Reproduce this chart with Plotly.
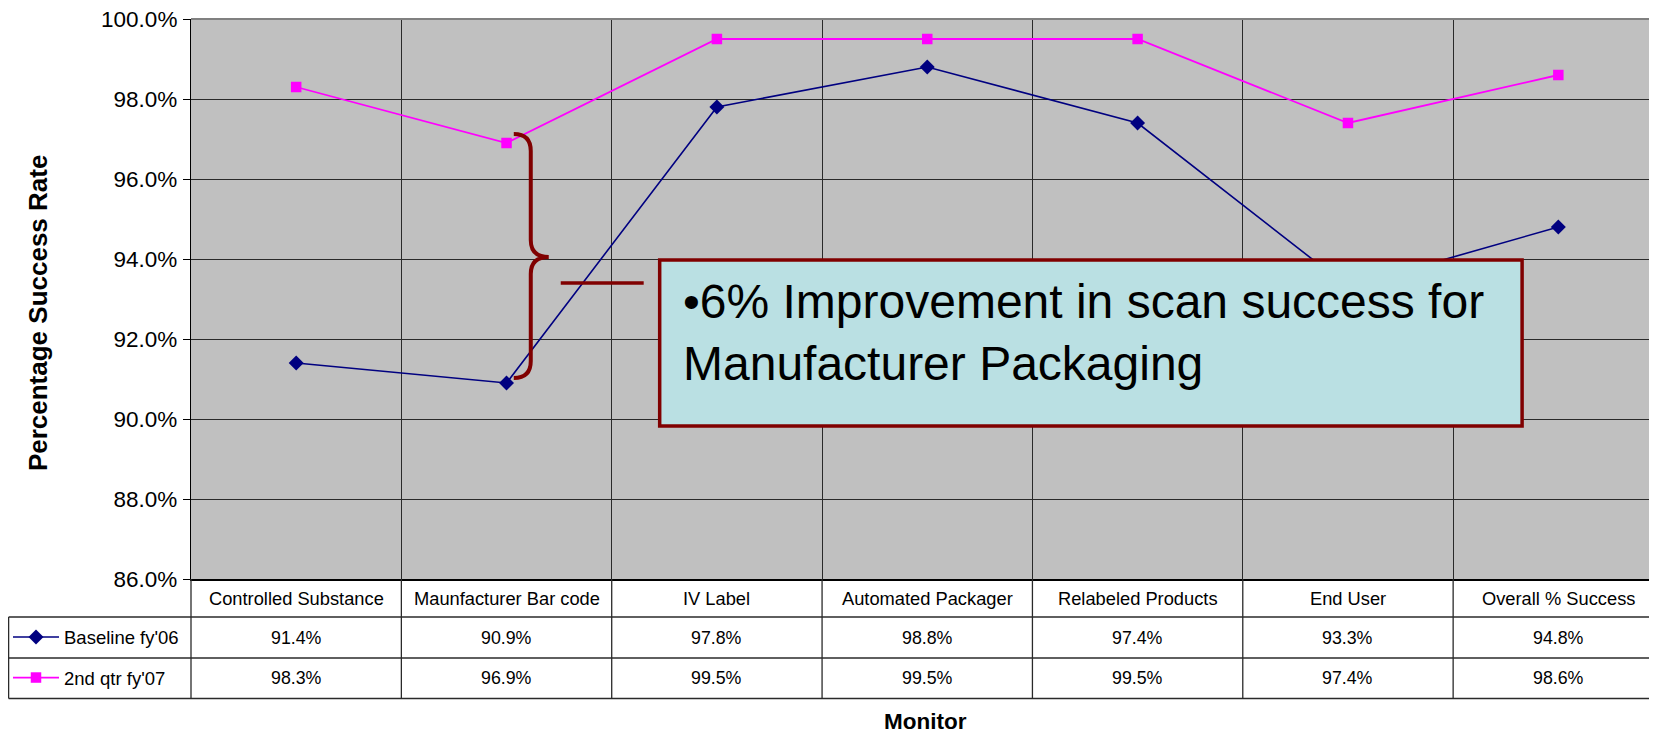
import plotly.graph_objects as go

categories = ["Controlled Substance", "Maunfacturer Bar code", "IV Label",
              "Automated Packager", "Relabeled Products", "End User", "Overall % Success"]
baseline_fy06 = [91.4, 90.9, 97.8, 98.8, 97.4, 93.3, 94.8]
qtr2_fy07 = [98.3, 96.9, 99.5, 99.5, 99.5, 97.4, 98.6]
series_names = ["Baseline fy'06", "2nd qtr fy'07"]
callout_text = "\u20226% Improvement in scan success for<br>Manufacturer Packaging"

FONT = "Liberation Sans, Arial, Helvetica, sans-serif"
OFF = 8  # default page body margin
W_PAGE, H_PAGE = 1657, 735
W_FIG, H_FIG = W_PAGE - OFF, H_PAGE - OFF
L, R, T, B = 190, 1657, 19, 579   # plot area in page pixels
PW, PH = R - L, B - T
COLW = 210.5
GRID = "#2a2a2a"


def px(x):
    return (x - L) / PW


def py(y):
    return (B - y) / PH


fig = go.Figure()
fig.add_trace(go.Scatter(
    x=categories, y=baseline_fy06, name=series_names[0], mode="lines+markers",
    line=dict(color="#000080", width=1.6),
    marker=dict(symbol="diamond", size=11.5, color="#000080"),
    legend="legend"))
fig.add_trace(go.Scatter(
    x=categories, y=qtr2_fy07, name=series_names[1], mode="lines+markers",
    line=dict(color="#FF00FF", width=1.8),
    marker=dict(symbol="square", size=10.5, color="#FF00FF"),
    legend="legend2"))

shapes = []
annotations = []

# Data table
row_y = [B, 617, 658, 698.5]
leg_left = 7.5
for yy in row_y[1:]:
    shapes.append(dict(type="line", xref="paper", yref="paper",
                       x0=px(leg_left), x1=1, y0=py(yy), y1=py(yy),
                       line=dict(color=GRID, width=1.3)))
shapes.append(dict(type="line", xref="paper", yref="paper", x0=0, x1=0,
                   y0=py(B), y1=py(row_y[3]), line=dict(color=GRID, width=1.3)))
shapes.append(dict(type="line", xref="paper", yref="paper", x0=px(leg_left), x1=px(leg_left),
                   y0=py(row_y[1]), y1=py(row_y[3]), line=dict(color=GRID, width=1.3)))
for i in range(len(categories) - 1):
    shapes.append(dict(type="line", xref="x", yref="paper", x0=i + 0.5, x1=i + 0.5,
                       y0=py(B), y1=py(row_y[3]), line=dict(color=GRID, width=1.3)))

for i, c in enumerate(categories):
    annotations.append(dict(x=i, xref="x", y=py((row_y[0] + row_y[1]) / 2), yref="paper",
                            xanchor="center", yanchor="middle",
                            text=c, showarrow=False, font=dict(size=18.3, color="black")))
    annotations.append(dict(x=i, xref="x", y=py((row_y[1] + row_y[2]) / 2), yref="paper",
                            xanchor="center", yanchor="middle",
                            text=f"{baseline_fy06[i]:.1f}%", showarrow=False,
                            font=dict(size=17.8, color="black")))
    annotations.append(dict(x=i, xref="x", y=py((row_y[2] + row_y[3]) / 2), yref="paper",
                            xanchor="center", yanchor="middle",
                            text=f"{qtr2_fy07[i]:.1f}%", showarrow=False,
                            font=dict(size=17.8, color="black")))

# Axis titles
annotations.append(dict(x=px(925), y=py(721), xref="paper", yref="paper", text="<b>Monitor</b>",
                        xanchor="center", yanchor="middle",
                        showarrow=False, font=dict(size=22.5, color="black")))
annotations.append(dict(x=px(37), y=py(313), xref="paper", yref="paper",
                        text="<b>Percentage Success Rate</b>", textangle=-90,
                        xanchor="center", yanchor="middle",
                        showarrow=False, font=dict(size=26, color="black")))

# top border of plot area
shapes.append(dict(type="line", xref="paper", yref="paper", x0=0, x1=1, y0=1, y1=1,
                   line=dict(color="#808080", width=2)))

# brace
bx, bv, btip = 513, 530, 548
btop, bmid, bbot = 134, 257, 378
brace = (f"M{px(bx)},{py(btop)} Q{px(bv)},{py(btop)} {px(bv)},{py(btop + 17)} "
         f"L{px(bv)},{py(bmid - 17)} Q{px(bv)},{py(bmid)} {px(btip)},{py(bmid)} "
         f"Q{px(bv)},{py(bmid)} {px(bv)},{py(bmid + 17)} "
         f"L{px(bv)},{py(bbot - 17)} Q{px(bv)},{py(bbot)} {px(bx)},{py(bbot)}")
shapes.append(dict(type="path", xref="paper", yref="paper", path=brace,
                   line=dict(color="#800000", width=4), layer="above"))
shapes.append(dict(type="line", xref="paper", yref="paper", x0=px(560), x1=px(643),
                   y0=py(283), y1=py(283), line=dict(color="#800000", width=3.5), layer="above"))

# callout box
shapes.append(dict(type="rect", xref="paper", yref="paper", x0=px(659), x1=px(1522),
                   y0=py(426), y1=py(260), fillcolor="#BAE0E3",
                   line=dict(color="#800000", width=3.5), layer="above"))
annotations.append(dict(x=px(680), y=py(332), xref="paper", yref="paper", xanchor="left",
                        yanchor="middle", align="left", text=callout_text, showarrow=False,
                        font=dict(size=48, color="black")))

fig.update_layout(
    width=W_FIG, height=H_FIG, autosize=False,
    margin=dict(l=L - OFF, r=W_PAGE - R, t=T - OFF, b=H_PAGE - B, pad=0),
    paper_bgcolor="white", plot_bgcolor="#C0C0C0",
    font=dict(family=FONT, color="black"),
    shapes=shapes, annotations=annotations,
    legend=dict(x=px(6.5), y=py(637.5), xanchor="left", yanchor="middle",
                bgcolor="rgba(0,0,0,0)", itemwidth=46, font=dict(size=18.5),
                borderwidth=0),
    legend2=dict(x=px(6.5), y=py(678), xanchor="left", yanchor="middle",
                 bgcolor="rgba(0,0,0,0)", itemwidth=46, font=dict(size=18.5),
                 borderwidth=0),
    showlegend=True,
)
fig.update_xaxes(type="category", range=[-0.5, -0.5 + PW / COLW], tickson="boundaries",
                 showgrid=True, gridcolor=GRID, gridwidth=1.2, showticklabels=False,
                 ticks="", showline=True, linecolor="black", linewidth=1.5, zeroline=False)
fig.update_yaxes(range=[86, 100], dtick=2, tick0=86, tickformat=".1f", ticksuffix="%",
                 showgrid=True, gridcolor=GRID, gridwidth=1.2, ticks="outside", ticklen=7,
                 tickcolor="black", showline=True, linecolor="black", linewidth=1.2,
                 zeroline=False, tickfont=dict(size=22.5, color="black"),
                 ticklabelstandoff=1, ticklabeloverflow="allow")

fig.write_html("out.html")
